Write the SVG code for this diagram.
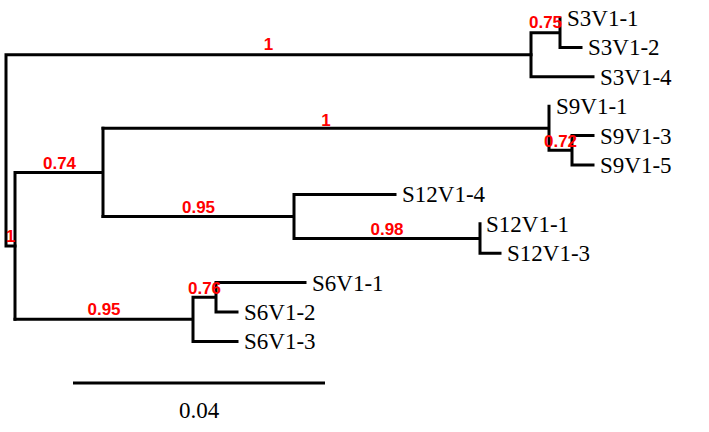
<svg xmlns="http://www.w3.org/2000/svg" width="709" height="432" viewBox="0 0 709 432">
<style>
.br{stroke:#000;stroke-width:3;fill:none;stroke-linecap:square}
.tip{font-family:"Liberation Serif","Times New Roman",serif;font-size:23px;fill:#000}
.sup{font-family:"Liberation Sans",Arial,sans-serif;font-weight:bold;font-size:17px;fill:#ff0000;text-anchor:middle}
</style>
<rect width="709" height="432" fill="#fff"/>
<g id="connectors" class="br">
<path d="M6,54.75V245.9M6,54.75H531M6,245.9H15"/>
<path d="M15,172.4V319.35M15,172.4H103M103,128.25V216.5"/>
<path d="M103,128.25H549M549,106.2V150.3M549,150.3H572M572,135.6V165M572,135.6H593M572,165H593"/>
<path d="M103,216.5H294M294,194.4V238.5M294,194.4H395M294,238.5H480M480,223.8V253.2M480,253.2H500"/>
<path d="M15,319.35H193M193,297.3V341.4M193,297.3H216M216,282.6V312M216,282.6H305M216,312H237M193,341.4H237"/>
<path d="M531,32.7V76.8M531,32.7H560M560,18V47.4M560,47.4H581M531,76.8H593"/>
</g>
<g id="support">
<text class="sup" x="268.5" y="50">1</text>
<text class="sup" x="545.5" y="28">0.75</text>
<text class="sup" x="326" y="125.5">1</text>
<text class="sup" x="560.5" y="147">0.72</text>
<text class="sup" x="59.5" y="168.5">0.74</text>
<text class="sup" x="198.5" y="213">0.95</text>
<text class="sup" x="387" y="235">0.98</text>
<text class="sup" x="10.5" y="242">1</text>
<text class="sup" x="204.5" y="293.5">0.76</text>
<text class="sup" x="104" y="315">0.95</text>
</g>
<g id="S3V1-1"><text class="tip" x="567" y="26">S3V1-1</text></g>
<g id="S3V1-2"><text class="tip" x="588" y="55.4">S3V1-2</text></g>
<g id="S3V1-4"><text class="tip" x="600" y="84.8">S3V1-4</text></g>
<g id="S9V1-1"><text class="tip" x="556" y="114.2">S9V1-1</text></g>
<g id="S9V1-3"><text class="tip" x="600" y="143.6">S9V1-3</text></g>
<g id="S9V1-5"><text class="tip" x="600" y="173">S9V1-5</text></g>
<g id="S12V1-4"><text class="tip" x="402" y="202.4">S12V1-4</text></g>
<g id="S12V1-1"><text class="tip" x="486" y="231.8">S12V1-1</text></g>
<g id="S12V1-3"><text class="tip" x="507" y="261.2">S12V1-3</text></g>
<g id="S6V1-1"><text class="tip" x="312" y="290.6">S6V1-1</text></g>
<g id="S6V1-2"><text class="tip" x="244" y="320">S6V1-2</text></g>
<g id="S6V1-3"><text class="tip" x="244" y="349.4">S6V1-3</text></g>
<g id="scale">
<path class="br" d="M73,383H325" style="stroke-linecap:butt"/>
<text class="tip" x="199" y="418" text-anchor="middle">0.04</text>
</g>
</svg>
